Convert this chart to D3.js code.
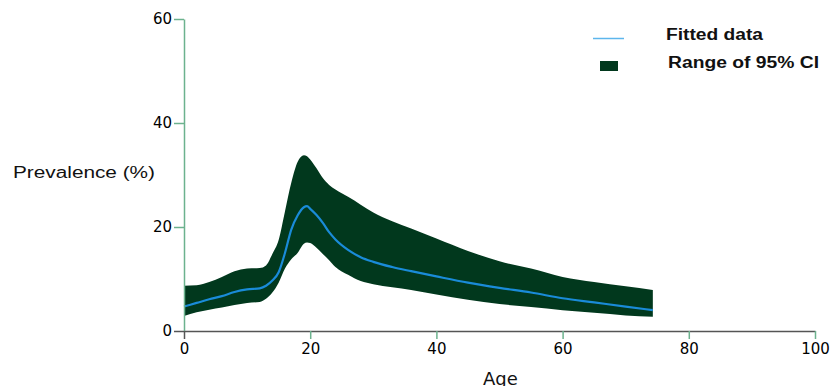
<!DOCTYPE html>
<html>
<head>
<meta charset="utf-8">
<script src="https://cdn.jsdelivr.net/npm/d3@7"></script>
<style>
  body { margin: 0; background: #fff; }
  svg { display: block; }
</style>
</head>
<body>
<div id="chart"></div>
<script>
// values
const ages   = [0, 2, 4, 6, 8, 10, 12, 13, 14, 15, 16, 17, 18, 19, 19.5, 20, 21, 22, 23, 24, 26, 28, 30, 33, 36, 40, 45, 50, 55, 60, 65, 70, 74.3]
const fitted = [4.7, 5.4, 6.1, 6.7, 7.5, 8.0, 8.2, 8.7, 9.7, 11.3, 15.0, 19.5, 22.2, 23.8, 24.0, 23.5, 22.3, 20.8, 19.0, 17.6, 15.6, 14.2, 13.3, 12.3, 11.5, 10.5, 9.3, 8.3, 7.4, 6.3, 5.5, 4.7, 4.0]
const upper  = [8.7, 8.8, 9.4, 10.4, 11.5, 12.0, 12.1, 12.6, 14.8, 17.5, 23.0, 28.5, 32.5, 33.8, 33.6, 33.0, 31.3, 29.4, 28.1, 27.2, 25.8, 24.3, 22.8, 21.1, 19.7, 17.8, 15.4, 13.4, 12.0, 10.4, 9.4, 8.6, 7.9]
const lower  = [2.9, 3.6, 4.1, 4.5, 5.0, 5.4, 5.6, 6.2, 7.4, 9.3, 12.0, 13.8, 15.0, 16.8, 17.0, 16.9, 16.0, 14.8, 13.6, 12.3, 10.8, 9.6, 9.0, 8.4, 7.9, 7.0, 6.0, 5.2, 4.6, 4.0, 3.5, 3.0, 2.75]
const xTicks = [0, 20, 40, 60, 80, 100]
const yTicks = [0, 20, 40, 60]
const legendLabels = ['Fitted data', 'Range of 95% CI']

const width = 832, height = 386
const bandColor = '#01381d'
const lineColor = '#1a8bd8'
const green = '#6cb28e'
const grey = '#555'

const svg = d3.select('#chart').append('svg')
    .attr('width', width)
    .attr('height', height)

const x = d3.scaleLinear().domain([0, 100]).range([184, 815])
const y = d3.scaleLinear().domain([0, 60]).range([331, 19])

const rows = ages.map((a, i) => ({age: a, fit: fitted[i], hi: upper[i], lo: lower[i]}))

// CI band
const area = d3.area()
    .x(d => x(d.age))
    .y0(d => y(d.lo))
    .y1(d => y(d.hi))
    .curve(d3.curveMonotoneX)

svg.append('path')
    .datum(rows)
    .attr('d', area)
    .attr('fill', bandColor)

// fitted line
const line = d3.line()
    .x(d => x(d.age))
    .y(d => y(d.fit))
    .curve(d3.curveMonotoneX)

svg.append('path')
    .datum(rows)
    .attr('d', line)
    .attr('fill', 'none')
    .attr('stroke', lineColor)
    .attr('stroke-width', 2.2)

// axes
const xAxis = d3.axisBottom(x).tickValues(xTicks).tickSize(8).tickSizeOuter(0).tickPadding(4)
const yAxis = d3.axisLeft(y).tickValues(yTicks).tickSize(10).tickSizeOuter(0).tickPadding(2)

const gy = svg.append('g')
    .attr('transform', `translate(${x(0)},0)`)
    .call(yAxis)
gy.select('.domain').attr('stroke', green).attr('stroke-width', 1.5)
gy.selectAll('.tick line').attr('stroke', d => d === 0 ? grey : green).attr('stroke-width', 1.5)

const gx = svg.append('g')
    .attr('transform', `translate(0,${y(0)})`)
    .call(xAxis)
gx.select('.domain').attr('stroke', grey).attr('stroke-width', 1.5)
gx.selectAll('.tick line').attr('stroke', d => d === 0 ? grey : green).attr('stroke-width', 1.5)

svg.selectAll('.tick text')
    .style('font-family', '"DejaVu Sans", Verdana, sans-serif')
    .style('font-size', '15px')
    .attr('fill', '#000')

// axis titles
svg.append('text')
    .text('Prevalence (%)')
    .attr('x', 13)
    .attr('y', 178)
    .attr('textLength', 142)
    .attr('lengthAdjust', 'spacingAndGlyphs')
    .style('font-family', '"Liberation Sans", Arial, sans-serif')
    .style('font-size', '16px')
    .attr('fill', '#111')

svg.append('text')
    .text('Age')
    .attr('x', 483)
    .attr('y', 385)
    .style('font-family', '"DejaVu Sans", Verdana, sans-serif')
    .style('font-size', '18px')
    .attr('fill', '#111')

// legend
const legend = svg.append('g').attr('id', 'legend')

legend.append('line')
    .attr('x1', 593).attr('x2', 624)
    .attr('y1', 38.5).attr('y2', 38.5)
    .attr('stroke', '#5db6ec')
    .attr('stroke-width', 1.5)

legend.append('rect')
    .attr('x', 600).attr('y', 61)
    .attr('width', 18).attr('height', 10)
    .attr('fill', bandColor)

legend.selectAll('text.lab')
    .data(legendLabels)
    .enter()
    .append('text')
    .attr('class', 'lab')
    .text(d => d)
    .attr('x', (d, i) => i === 0 ? 666 : 668)
    .attr('y', (d, i) => i === 0 ? 40 : 67.5)
    .attr('textLength', (d, i) => i === 0 ? 97 : 151)
    .attr('lengthAdjust', 'spacingAndGlyphs')
    .style('font-family', '"Liberation Sans", Arial, sans-serif')
    .style('font-weight', 'bold')
    .style('font-size', '16px')
    .attr('fill', '#111')
</script>
</body>
</html>
